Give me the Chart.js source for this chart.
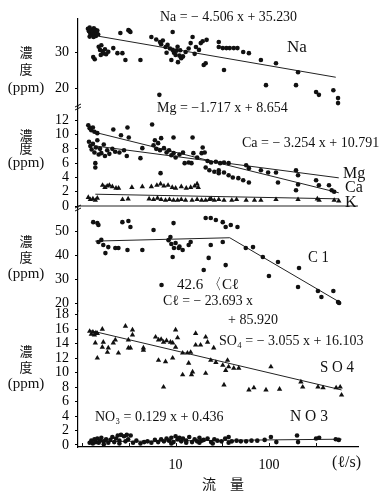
<!DOCTYPE html>
<html><head><meta charset="utf-8">
<script src="https://cdn.jsdelivr.net/npm/chart.js@4/dist/chart.umd.min.js"></script>
<style>html,body{margin:0;padding:0;background:#fff;}#wrap{width:380px;height:491px;}</style>
</head><body><div id="wrap"><canvas id="c" width="380" height="491"></canvas></div>
<script>
// ---- data: [flow (l/s), concentration (ppm)] ----
const naPoints = [[1.15,36.5],[1.18,35.8],[1.2,36.8],[1.22,35.2],[1.25,36.1],[1.28,34.8],[1.3,35.6],[1.33,36.6],[1.35,35.0],[1.38,36.2],[1.4,34.5],[1.42,35.5],[1.45,36.0],[1.48,34.9],[1.2,34.3],[1.32,34.2],
 [2.56,35.3],[3.12,36.1],[3.28,35.6],[3.2,35.9],[1.31,28.6],[1.36,28.0],
 [1.5,31.5],[1.55,30.6],[1.6,31.9],[1.65,30.2],[1.7,29.6],[1.75,30.8],[1.8,29.4],[1.9,30.1],[1.58,29.2],
 [2.15,31.1],[2.38,29.7],[2.69,29.7],[2.9,27.8],[4.2,27.8],[6.7,18.1],
 [5.5,34.2],[6.2,33.5],[6.8,32.8],[7.3,33.2],[7.8,31.4],[8.2,32.0],[8.7,31.0],[9.3,35.6],[9.3,30.6],[9.6,29.8],[10.0,29.2],[10.2,30.4],[10.6,27.2],[9.0,27.8],[11.0,29.0],[11.5,28.3],[12.0,28.8],[12.8,30.0],[8.0,29.8],[7.0,32.2],[10.5,31.5],[11.2,30.5],
 [15.2,34.2],[14.5,32.5],[16.5,31.4],[17.8,30.6],[18.6,32.5],[19.5,33.0],[21.5,33.4],[20,26.4],[21,26.9],[13.8,31.0],[16,29.5],
 [29,32.8],[29,31.4],[32,31.1],[35,31.1],[38,31.1],[42,31.1],[46,31.1],[53,30.0],[61,29.7],[82,27.8],[119,26.9],[33,25.0],[205,24.4],[93,20.8],[195,20.8],[320,18.9],[343,18.1],[490,19.4],[550,17.2],[550,15.8]];
const naLine = [[1.5,34.4],[520,23.0]];

const caPoints = [[1.16,11.3],[1.2,10.9],[1.25,10.6],[1.3,11.0],[1.35,10.4],[1.45,10.2],[2.15,10.7],[2.6,9.9],[3.05,11.0],[3.15,9.6],[5.6,11.4],[15.2,9.6],[6.0,9.2],[6.5,8.8],[7.0,9.5],[9.5,9.6],
 [21,5.4],[23,5.0],[26,4.8],[29,4.6],[29,5.0],[33,4.7],[37,4.3],[41,4.0],[47,3.9],[53,3.6],[61,3.3],[125,3.3],[195,2.2],[205,3.0],[320,3.6],[343,2.9],[440,2.9],[470,2.2],[500,2.0],[4.4,8.1],[6.9,4.6]];
const mgPoints = [[1.18,9.0],[1.22,8.4],[1.26,7.9],[1.3,8.7],[1.35,7.5],[1.4,8.2],[1.45,9.2],[1.5,7.2],[1.55,8.0],[1.6,7.4],[1.7,8.6],[1.75,7.0],[1.85,7.8],[1.95,7.3],[2.1,8.0],[2.25,7.6],[1.38,6.0],[1.38,5.4],[2.5,7.5],[2.8,7.8],[3.0,7.0],[4.2,6.7],
 [5.8,8.5],[6.2,8.0],[6.8,7.8],[7.5,8.1],[8.0,7.5],[8.5,7.8],[9.0,7.1],[9.5,7.4],[10,6.8],[11,7.2],[12,7.5],[12.5,6.0],[13.8,6.1],[14.8,6.0],[15.5,7.4],[17,6.8],[19,7.4],[19.5,8.2],[20.5,7.5],[22,6.3],[24,6.1],[27,6.2],[30,6.0],[33,6.1],[37,6.0],[57,5.7],[61,5.3],[82,5.0],[98,4.7],[119,4.7],[195,5.0],[205,4.3]];
const kPoints = [[1.65,2.9],[1.75,2.6],[1.85,2.8],[1.95,2.9],[2.1,2.7],[2.3,2.5],[2.45,2.5],[3.4,2.6],[5.5,2.7],[6.3,2.9],[6.9,3.1],[7.5,2.8],[8.3,2.9],[9.2,2.6],[10,2.5],[11.5,2.7],[13,2.5],[14.5,2.6],[16,2.8],[17,3.1],[17.5,2.6],[4.4,2.7],
 [1.16,1.2],[1.22,0.9],[1.3,1.0],[1.38,0.8],[1.45,1.1],[2.7,0.9],[3.1,1.0],[5.2,1.0],[5.8,0.9],[6.4,1.1],[7,0.9],[7.8,0.8],[8.6,0.9],[9.5,0.8],[10.5,0.8],[11.5,0.9],[12.8,0.8],[15,0.8],[17,0.9],[19,0.8],[21,0.8],[23,0.9],[26,0.8],[29,0.9],[33,0.8],[40,0.8],[57,0.8],[82,0.8],[119,0.9],[205,0.9],[345,0.8],[330,1.0],[500,0.8],[560,0.7],[24,1.0],[45,0.9],[70,0.8]];
const caLine = [[1.2,10.5],[560,1.85]];
const mgLine = [[1.3,8.45],[560,3.94]];
const kLine = [[1.38,1.65],[560,1.0]];
const zeroLine = [[0.9,0],[900,0]];

const clPoints = [[1.31,53.7],[1.45,53.3],[1.49,52.5],[2.69,53.7],[3.12,54.2],[3.28,51.7],[5.8,50.4],[9.5,53.3],[21,55.4],[23.8,55.4],[27,54.6],[32,53.7],[34.4,51.7],[39,52.5],[46,51.7],
 [1.49,45.4],[1.68,44.2],[1.77,40.8],[1.9,43.3],[2.26,42.9],[2.44,42.9],[3.05,42.1],[4.4,42.1],[1.6,46.3],
 [8.8,47.5],[8.4,46.2],[9.0,44.6],[9.6,42.9],[10.8,42.9],[11.9,42.1],[13.8,44.2],[14.5,45.4],[9.3,39.2],[23.8,44.2],[32,45.4],[22.6,38.8],[20,33.8],[34.4,35.8],[7.07,27.5],[10.0,45.0],[11,43.5],
 [56.5,42.9],[67.5,43.3],[86,39.2],[125,37.1],[100,31.3],[210,34.6],[205,26.7],[335,25.0],[365,22.5],[490,25.0],[550,20.4],[565,20.0]];
const clLine = [[1.38,45.8],[38,47.2],[565,20.5]];

const so4Points = [[1.2,15.7],[1.25,15.3],[1.3,15.6],[1.35,15.2],[1.4,15.5],[1.45,15.4],[1.64,16.0],
 [1.38,14.1],[1.45,12.0],[1.64,13.5],[1.86,12.8],[2.15,14.1],[2.26,14.5],[2.44,12.7],[3.12,14.5],[3.45,15.2],[3.28,13.4],[4.52,13.1],
 [2.9,16.4],[3.45,15.9],[1.68,14.2],[1.9,13.4],[3.12,13.4],[4.52,13.4],
 [6.1,14.9],[6.56,14.5],[7.43,14.2],[8.8,14.2],[9.3,14.1],[10,13.5],[10,15.9],[10.5,14.8],[7.0,14.6],[8.0,14.4],
 [6.56,11.7],[7.8,11.5],[9.3,12.0],[7.43,8.0],
 [11.9,12.7],[13.4,12.7],[14.5,12.8],[13.8,11.3],[15.2,10.1],[14.8,9.7],[11.9,9.7],[21,9.9],
 [16.4,15.4],[21,14.9],[22,14.2],[16.4,13.8],[18.5,13.8],[23.8,11.7],[25.6,13.4],
 [27,11.4],[32,11.0],[36,11.7],[37,10.8],[42,10.6],[47.5,10.6],[34.4,10.3],[33,8.3],[105,10.8],[61,7.6],[69,7.9],[93,7.6],[130,7.7],[220,8.7],[230,8.0],[335,8.0],[380,7.9],[525,7.9],[580,8.0],[600,6.9]];
const so4Line = [[1.22,15.8],[600,7.6]];

const no3Points = [[1.2,0.3],[1.25,0.6],[1.3,0.2],[1.35,0.8],[1.4,0.4],[1.45,0.9],[1.5,0.3],[1.55,0.6],[1.6,1.0],[1.7,0.5],[1.8,0.8],[1.9,0.3],[2.0,0.7],[2.1,1.1],[2.2,0.4],[2.3,0.9],[2.4,1.3],[2.5,0.6],[2.6,1.4],[2.8,1.2],[2.9,0.5],[3.0,1.4],[3.1,0.8],[3.3,1.3],[3.5,0.3],[3.8,0.6],[4.2,0.2],[4.6,0.4],[5.0,0.5],[5.5,0.3],[6.0,0.7],[6.5,0.4],[7.0,0.8],[7.5,0.5],[8.0,0.9],[8.5,0.6],[9.0,1.0],[9.5,0.4],[10,1.2],[10.5,0.8],[11,1.0],[11.5,0.5],[12,0.9],[13,0.6],[14,1.1],[15,0.4],[16,0.8],[17,0.5],[18,1.0],[19,0.6],[20,0.7],[22,0.9],[24,0.4],[26,0.8],[28,0.6],[31,0.5],[34,0.9],[37,1.1],[40,0.5],[45,0.6],[50,0.5],[57,0.5],[65,0.6],[75,0.6],[90,0.7],[105,1.1],[120,0.4],[200,1.3],[205,0.4],[320,0.9],[345,1.0],[520,0.8],[560,0.7],[37,0.3],[1.7,0.1],[2.5,0.2],[9,0.2],[13,0.3],[18,0.3],[25,0.2]];
const no3Line = [[1.2,0.45],[600,0.8]];

// ---- axes ----
const xTickValues = [1, 3.1623, 10, 31.623, 100, 316.23];
const xTickLabels = ['', '', '10', '', '100', ''];
const yNaTicks = [20, 30];
const yMgTicks = [0, 2, 4, 6, 8, 10, 12];
const yClTicks = [20, 30, 40, 50];
const ySoTicks = [0, 2, 4, 6, 8, 10, 12, 14, 16, 18];

const SERIF = '"Liberation Serif", "DejaVu Serif", serif';
const JP = '"Noto Sans CJK JP", sans-serif';
const pts = a => a.map(([x, y]) => ({x, y}));

function dots(data, yAxisID, style) {
  return {type: 'scatter', data: pts(data), yAxisID, xAxisID: 'x',
    pointStyle: style || 'circle', pointRadius: style === 'triangle' ? 3.1 : 2.3,
    backgroundColor: '#111', borderColor: '#111', borderWidth: 0, showLine: false};
}
function line(data, yAxisID) {
  return {type: 'line', data: pts(data), yAxisID, xAxisID: 'x', showLine: true,
    pointRadius: 0, borderColor: '#222', borderWidth: 1, fill: false, tension: 0};
}
function yAxis(min, max, weight, ticks) {
  return {type: 'linear', position: 'left', stack: 'panels', stackWeight: weight, min, max, offset: false,
    afterFit: s => { s.width = 78; },
    afterBuildTicks: s => { s.ticks = ticks.map(v => ({value: v})); },
    border: {color: '#000', width: 1.2},
    grid: {drawOnChartArea: false, drawTicks: true, tickLength: 3, color: '#000'},
    ticks: {autoSkip: false, padding: 6, color: '#000', font: {family: SERIF, size: 14}}};
}

const texts = [
  {t: 'Na = − 4.506 x + 35.230', x: 160, y: 17, w: 137, s: 14},
  {t: 'Na', x: 287, y: 48, s: 17},
  {t: 'Mg = −1.717 x + 8.654', x: 157, y: 108, w: 133, s: 14},
  {t: 'Ca = − 3.254 x + 10.791', x: 242, y: 143, w: 138, s: 14},
  {t: 'Mg', x: 343, y: 174, s: 16},
  {t: 'Ca', x: 345, y: 188, s: 16},
  {t: 'K', x: 345, y: 203, s: 16},
  {t: 'C 1', x: 308, y: 258, w: 21, s: 16},
  {t: '42.6 〈Cℓ', x: 177, y: 285, w: 65, s: 15},
  {t: 'Cℓ = − 23.693 x', x: 163, y: 301, w: 90, s: 14},
  {t: '+ 85.920', x: 228, y: 320, w: 54, s: 14},
  {t: 'SO₄ = − 3.055 x + 16.103', x: 219, y: 341, w: 146, s: 14},
  {t: 'S O 4', x: 320, y: 368, w: 34, s: 17},
  {t: 'NO₃ = 0.129 x + 0.436', x: 95, y: 417, w: 135, s: 14},
  {t: 'N O 3', x: 290, y: 417, w: 38, s: 17},
  {t: '(ℓ/s)', x: 332, y: 463, w: 48, s: 16},
  {t: '流　量', x: 202, y: 484, w: 47, s: 14, f: JP}
];
const titleRows = [[52, 69, 88], [135, 148, 163], [241, 257, 274], [351, 367, 384]];

const decor = {
  id: 'decor',
  afterDraw(chart) {
    const ctx = chart.ctx, xs = chart.scales.x, ca = chart.chartArea;
    ctx.save();
    ctx.fillStyle = '#111'; ctx.strokeStyle = '#111'; ctx.textBaseline = 'middle';
    // upward x ticks
    ctx.lineWidth = 1;
    xTickValues.forEach(v => {
      const px = Math.round(xs.getPixelForValue(v)) + 0.5;
      ctx.beginPath(); ctx.moveTo(px, ca.bottom); ctx.lineTo(px, ca.bottom - 4); ctx.stroke();
    });
    // axis break marks
    ['yMg', 'yCl'].forEach(id => {
      const y = chart.scales[id].top;
      ctx.beginPath();
      ctx.moveTo(ca.left - 3, y + 1); ctx.lineTo(ca.left + 3, y - 2);
      ctx.moveTo(ca.left - 3, y + 4); ctx.lineTo(ca.left + 3, y + 1);
      ctx.stroke();
    });
    // panel titles
    titleRows.forEach(r => {
      ctx.textAlign = 'center';
      ctx.font = '13px ' + JP; ctx.fillText('濃', 26, r[0]); ctx.fillText('度', 26, r[1]);
      ctx.font = '15px ' + SERIF; ctx.fillText('(ppm)', 26, r[2], 41);
    });
    // annotations
    ctx.textAlign = 'left';
    texts.forEach(o => {
      ctx.font = o.s + 'px ' + (o.f || SERIF);
      if (o.w) ctx.fillText(o.t, o.x, o.y, o.w); else ctx.fillText(o.t, o.x, o.y);
    });
    ctx.restore();
  }
};

new Chart(document.getElementById('c'), {
  type: 'scatter',
  data: {datasets: [
    dots(naPoints, 'yNa'), line(naLine, 'yNa'),
    dots(caPoints, 'yMg'), dots(mgPoints, 'yMg'), dots(kPoints, 'yMg', 'triangle'),
    line(caLine, 'yMg'), line(mgLine, 'yMg'), line(kLine, 'yMg'), line(zeroLine, 'yMg'),
    dots(clPoints, 'yCl'), line(clLine, 'yCl'),
    dots(so4Points, 'ySo', 'triangle'), line(so4Line, 'ySo'),
    dots(no3Points, 'ySo'), line(no3Line, 'ySo')
  ]},
  options: {
    responsive: false, animation: false, devicePixelRatio: 1, events: [],
    layout: {padding: {left: 0, right: 22, top: 19, bottom: 0}},
    plugins: {legend: {display: false}, tooltip: {enabled: false}},
    scales: {
      x: {type: 'logarithmic', position: 'bottom', min: 0.9, max: 900,
        afterBuildTicks: s => { s.ticks = xTickValues.map(v => ({value: v})); },
        afterFit: s => { s.height = 44; },
        border: {color: '#000', width: 1.2},
        grid: {drawOnChartArea: false, drawTicks: false},
        ticks: {autoSkip: false, maxRotation: 0, padding: 10, color: '#000', font: {family: SERIF, size: 14},
          callback: (v, i) => xTickLabels[i]}},
      ySo: yAxis(-0.28, 18.5, 136, ySoTicks),
      yCl: yAxis(16.7, 60, 104, yClTicks),
      yMg: yAxis(-0.14, 14.0, 101, yMgTicks),
      yNa: yAxis(15.0, 39.2, 87, yNaTicks)
    }
  },
  plugins: [decor]
});
</script>
</body></html>
